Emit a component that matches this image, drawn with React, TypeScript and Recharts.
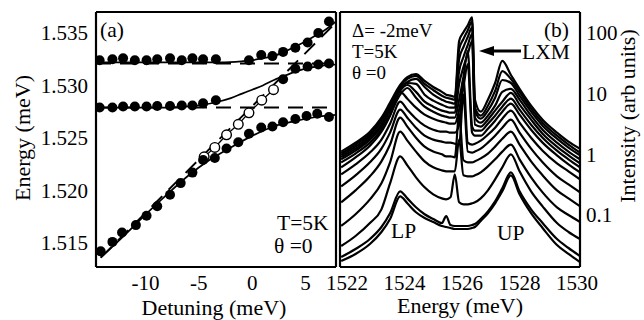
import React from 'react';
import { ComposedChart, LineChart, Line, Scatter, XAxis, YAxis } from 'recharts';

const FONT = "'Liberation Serif', 'Times New Roman', serif";

// ---- panel (a): polariton energies vs detuning ----
const DET_DOMAIN = [-14.64, 7.86];
const EA_DOMAIN = [1.51271, 1.537];
const DET_TICKS = [-10, -5, 0, 5];
const DET_MINOR = [-14, -13, -12, -11, -9, -8, -7, -6, -4, -3, -2, -1, 1, 2, 3, 4, 6, 7];
const DET_TOP = [-14.3, -9.95, -5.6, -1.25, 3.1, 7.45];
const EA_TICKS = [1.515, 1.52, 1.525, 1.53, 1.535];
const EA_MINOR = [1.513, 1.514, 1.516, 1.517, 1.518, 1.519, 1.521, 1.522, 1.523, 1.524, 1.526, 1.527, 1.528, 1.529, 1.531, 1.532, 1.533, 1.534, 1.536];

const UPPER_DET = [-14.3, -13.1, -12.1, -11.0, -9.9, -8.9, -7.7, -6.6, -5.6, -4.6, -3.4, -0.3, 0.85, 1.9, 2.9, 4.05, 5.2, 6.2, 7.2];
const UPPER_E = [1.5324, 1.5325, 1.5326, 1.5324, 1.5324, 1.5325, 1.5326, 1.5324, 1.5326, 1.5325, 1.5325, 1.5324, 1.5329, 1.5328, 1.5332, 1.5336, 1.5341, 1.535, 1.5361];

const MIDDLE_DET = [-14.3, -13.1, -12.1, -11.0, -9.9, -8.9, -7.7, -6.6, -5.6, -4.6, -3.4, 2.9, 4.05, 5.2, 6.2, 7.2];
const MIDDLE_E = [1.5279, 1.5279, 1.528, 1.528, 1.528, 1.52805, 1.52805, 1.5281, 1.5281, 1.5283, 1.5286, 1.5306, 1.5316, 1.5318, 1.532, 1.5321];

const LOWER_DET = [-14.2, -13.1, -12.2, -10.9, -9.9, -8.9, -7.7, -6.7, -5.6, -4.6, -3.5, -2.4, -1.3, -0.3, 0.85, 1.9, 2.9, 4.05, 5.1, 6.1, 7.2];
const LOWER_E = [1.5142, 1.5151, 1.516, 1.5167, 1.5176, 1.5185, 1.5196, 1.5207, 1.5217, 1.5229, 1.5231, 1.524, 1.5246, 1.5254, 1.526, 1.5261, 1.5265, 1.5268, 1.5271, 1.5273, 1.527];

const OPEN_DET = [-4.5, -3.5, -2.4, -1.3, -0.3, 0.9, 2.0];
const OPEN_E = [1.5232, 1.5241, 1.5253, 1.5263, 1.5274, 1.5286, 1.5296];

const FIT_UP_DET = [-14.64, -6, -3, -1, 0, 1, 2, 3, 4, 5, 6, 7, 7.86];
const FIT_UP_E = [1.5322, 1.5322, 1.5322, 1.5323, 1.5324, 1.5326, 1.5328, 1.5332, 1.5337, 1.5342, 1.5348, 1.5354, 1.5361];
const FIT_MID_DET = [-14.64, -8, -5, -3, -2, -1, 0, 1, 2, 3, 4, 5, 6, 7.86];
const FIT_MID_E = [1.5279, 1.5279, 1.5281, 1.5285, 1.5288, 1.5292, 1.5296, 1.53, 1.5305, 1.5309, 1.5313, 1.5316, 1.5318, 1.532];
const FIT_LOW_DET = [-14.2, -12, -10, -8, -6, -4, -2, 0, 2, 4, 6, 7.86];
const FIT_LOW_E = [1.5136, 1.5157, 1.5177, 1.5196, 1.5214, 1.5229, 1.5241, 1.5252, 1.5261, 1.5266, 1.527, 1.5272];

const EXC_DET = [-14.64, 7.86];
const EXC_HIGH_E = [1.5321, 1.5321];
const EXC_LOW_E = [1.5279, 1.5279];
const CAV_DET = [-14.2, 7.86];
const CAV_E = [1.5136, 1.536];

// ---- panel (b): spectra for increasing power ----
const EN_DOMAIN = [1521.76, 1530.1];
const INT_DOMAIN = [0.0139, 222];
const EN_TICKS = [1522, 1524, 1526, 1528, 1530];
const EN_MINOR = [1522.5, 1523, 1523.5, 1524.5, 1525, 1525.5, 1526.5, 1527, 1527.5, 1528.5, 1529, 1529.5];
const INT_TICKS = [0.1, 1, 10, 100];

const ENERGY = [1521.8, 1522.3, 1522.8, 1523.2, 1523.5, 1523.85, 1524.1, 1524.4, 1524.7, 1525.0, 1525.3, 1525.45, 1525.6, 1525.75, 1525.9, 1526.05, 1526.2, 1526.35, 1526.45, 1526.65, 1526.9, 1527.15, 1527.4, 1527.7, 1528.0, 1528.4, 1528.8, 1529.3, 1529.7, 1530.1];

const C1 = [0.0175, 0.0228, 0.0333, 0.0525, 0.0859, 0.203, 0.156, 0.111, 0.0893, 0.0767, 0.0659, 0.0634, 0.0611, 0.0588, 0.0588, 0.0588, 0.0588, 0.0611, 0.0634, 0.0797, 0.107, 0.156, 0.246, 0.451, 0.219, 0.107, 0.0611, 0.032, 0.0228, 0.0168];
const C2 = [0.0203, 0.0275, 0.0402, 0.0634, 0.107, 0.246, 0.188, 0.134, 0.103, 0.0859, 0.0738, 0.0963, 0.0684, 0.0659, 0.0659, 0.0659, 0.0659, 0.0684, 0.0711, 0.0859, 0.115, 0.168, 0.275, 0.505, 0.246, 0.124, 0.0738, 0.0402, 0.0286, 0.0211];
const C3 = [0.0308, 0.0451, 0.0738, 0.124, 0.333, 0.927, 0.659, 0.418, 0.286, 0.219, 0.188, 0.181, 0.196, 0.468, 0.162, 0.15, 0.15, 0.156, 0.162, 0.188, 0.255, 0.387, 0.611, 1.0, 0.525, 0.246, 0.139, 0.0738, 0.0525, 0.0402];
const C4 = [0.0659, 0.103, 0.181, 0.333, 0.738, 2.36, 1.68, 1.11, 0.767, 0.611, 0.545, 0.525, 0.525, 0.525, 1.75, 0.451, 0.434, 0.434, 0.451, 0.505, 0.634, 0.827, 1.11, 1.45, 0.827, 0.418, 0.236, 0.134, 0.1, 0.0767];
const C5 = [0.162, 0.255, 0.434, 0.767, 1.45, 4.02, 2.86, 1.88, 1.34, 1.11, 1.0, 0.927, 0.927, 0.893, 4.51, 0.797, 0.738, 0.738, 0.767, 0.859, 1.03, 1.34, 1.81, 2.36, 1.45, 0.767, 0.451, 0.255, 0.188, 0.139];
const C6 = [0.297, 0.451, 0.738, 1.24, 2.28, 5.45, 4.02, 2.75, 2.03, 1.75, 1.62, 1.56, 1.56, 1.5, 1.45, 9.63, 1.11, 1.07, 1.11, 1.24, 1.56, 2.03, 2.75, 3.73, 2.28, 1.24, 0.738, 0.434, 0.32, 0.236];
const C7 = [0.468, 0.684, 1.07, 1.75, 3.2, 7.38, 5.45, 3.87, 2.97, 2.55, 2.36, 2.36, 2.28, 2.28, 3.08, 17.5, 1.56, 1.45, 1.5, 1.68, 2.11, 2.75, 3.87, 5.25, 3.33, 1.88, 1.15, 0.711, 0.525, 0.387];
const C8 = [0.611, 0.893, 1.39, 2.36, 4.34, 10.7, 8.27, 5.88, 4.51, 3.87, 3.46, 3.33, 3.2, 3.2, 5.45, 12.9, 30.8, 2.28, 2.03, 2.03, 2.65, 3.59, 5.05, 6.84, 4.51, 2.55, 1.56, 0.963, 0.684, 0.505];
const C9 = [0.738, 1.03, 1.56, 2.55, 4.51, 9.63, 12.4, 8.59, 6.11, 5.05, 4.34, 4.18, 4.02, 4.02, 7.97, 18.8, 50.5, 2.86, 2.46, 2.46, 3.2, 4.34, 6.11, 8.27, 5.45, 3.08, 1.88, 1.15, 0.827, 0.611];
const C10 = [0.827, 1.15, 1.75, 2.86, 5.25, 11.1, 13.9, 10.7, 7.38, 6.11, 5.25, 5.05, 4.86, 4.86, 14.5, 27.5, 45.1, 73.8, 3.08, 2.86, 3.73, 5.25, 7.38, 10.3, 6.59, 3.73, 2.19, 1.34, 0.963, 0.711];
const C11 = [0.893, 1.24, 1.88, 3.08, 5.66, 11.5, 15, 14.5, 9.63, 7.67, 6.59, 6.11, 5.88, 5.88, 23.6, 40.2, 63.4, 96.3, 4.02, 3.33, 4.34, 6.34, 10.7, 12, 7.97, 4.34, 2.55, 1.56, 1.11, 0.827];
const C12 = [0.963, 1.34, 2.03, 3.46, 6.11, 12, 15.6, 17.5, 12.9, 9.63, 7.97, 7.38, 7.11, 6.84, 37.3, 58.8, 85.9, 124, 5.05, 3.87, 5.25, 8.59, 16.8, 15, 9.27, 5.05, 2.97, 1.81, 1.29, 0.963];
const C13 = [1.03, 1.45, 2.19, 3.73, 6.59, 12.9, 17.5, 19.6, 14.5, 11.5, 9.27, 8.59, 8.27, 7.97, 54.5, 79.7, 111, 156, 5.88, 4.34, 6.34, 11.1, 23.6, 17.5, 10.7, 5.66, 3.33, 2.03, 1.45, 1.07];
const C14 = [1.11, 1.56, 2.36, 4.02, 7.11, 13.9, 18.8, 21.1, 16.2, 12.9, 10.7, 9.63, 9.27, 8.93, 73.8, 103, 134, 181, 7.97, 5.05, 7.97, 15, 34.6, 20.3, 12, 6.34, 3.73, 2.28, 1.62, 1.24];
const SPECTRA = [C1, C2, C3, C4, C5, C6, C7, C8, C9, C10, C11, C12, C13, C14];

const pts = (xs: number[], ys: number[]) => xs.map((x, i) => ({ x, y: ys[i] }));

const spectraRows = ENERGY.map((e, i) => {
  const row: Record<string, number> = { e };
  SPECTRA.forEach((s, k) => {
    row['c' + k] = s[i];
  });
  return row;
});

const tickFont = { fontSize: 21, fill: '#000', fontFamily: FONT };
const frame = { stroke: '#000', strokeWidth: 2.2 };
const tickStroke = { stroke: '#000', strokeWidth: 1.6 };

const FilledDot = (p: any) => <circle cx={p.cx} cy={p.cy} r={5} fill="#000" />;
const OpenDot = (p: any) => <circle cx={p.cx} cy={p.cy} r={4.8} fill="#fff" stroke="#000" strokeWidth={1.4} />;

function PanelA() {
  const xa = { type: 'number' as const, dataKey: 'x', domain: DET_DOMAIN, allowDataOverflow: true, interval: 0 as const };
  const ya = { type: 'number' as const, domain: EA_DOMAIN, allowDataOverflow: true, interval: 0 as const };
  return (
    <ComposedChart width={338} height={320} margin={{ top: 12, right: 2, bottom: 0, left: 0 }}>
      <XAxis xAxisId="x" {...xa} ticks={DET_TICKS} height={53} tickLine={false} tickSize={0} tickMargin={8} axisLine={frame} tick={tickFont} />
      <XAxis xAxisId="xm" {...xa} ticks={DET_MINOR} mirror tick={false} tickSize={5} axisLine={false} tickLine={tickStroke} />
      <XAxis xAxisId="xM" {...xa} ticks={DET_TICKS} mirror tick={false} tickSize={10} axisLine={false} tickLine={tickStroke} />
      <XAxis xAxisId="xt" {...xa} orientation="top" ticks={DET_TOP} mirror tick={false} tickSize={10} axisLine={frame} tickLine={tickStroke} />
      <YAxis yAxisId="y" {...ya} ticks={EA_TICKS} width={96} tickLine={false} tickSize={0} tickMargin={8} axisLine={frame} tick={tickFont} tickFormatter={(v: number) => v.toFixed(3)} />
      <YAxis yAxisId="ym" {...ya} ticks={EA_MINOR} mirror tick={false} tickSize={5} axisLine={false} tickLine={tickStroke} />
      <YAxis yAxisId="yM" {...ya} ticks={EA_TICKS} mirror tick={false} tickSize={10} axisLine={false} tickLine={tickStroke} />
      <YAxis yAxisId="yr" {...ya} orientation="right" ticks={EA_MINOR} mirror tick={false} tickSize={5} axisLine={frame} tickLine={tickStroke} />
      <YAxis yAxisId="yrM" {...ya} orientation="right" ticks={EA_TICKS} mirror tick={false} tickSize={10} axisLine={false} tickLine={tickStroke} />

      <Line xAxisId="x" yAxisId="y" data={pts(EXC_DET, EXC_HIGH_E)} dataKey="y" stroke="#000" strokeWidth={1.9} strokeDasharray="15 9" dot={false} isAnimationActive={false} />
      <Line xAxisId="x" yAxisId="y" data={pts(EXC_DET, EXC_LOW_E)} dataKey="y" stroke="#000" strokeWidth={1.9} strokeDasharray="15 9" dot={false} isAnimationActive={false} />
      <Line xAxisId="x" yAxisId="y" data={pts(CAV_DET, CAV_E)} dataKey="y" stroke="#000" strokeWidth={1.9} strokeDasharray="15 9" dot={false} isAnimationActive={false} />
      <Line xAxisId="x" yAxisId="y" data={pts(FIT_UP_DET, FIT_UP_E)} dataKey="y" type="monotone" stroke="#000" strokeWidth={1.7} dot={false} isAnimationActive={false} />
      <Line xAxisId="x" yAxisId="y" data={pts(FIT_MID_DET, FIT_MID_E)} dataKey="y" type="monotone" stroke="#000" strokeWidth={1.7} dot={false} isAnimationActive={false} />
      <Line xAxisId="x" yAxisId="y" data={pts(FIT_LOW_DET, FIT_LOW_E)} dataKey="y" type="monotone" stroke="#000" strokeWidth={1.7} dot={false} isAnimationActive={false} />
      <Line xAxisId="x" yAxisId="y" data={pts(OPEN_DET, OPEN_E)} dataKey="y" stroke="#000" strokeWidth={1.3} dot={<OpenDot />} isAnimationActive={false} />

      <Scatter xAxisId="x" yAxisId="y" data={pts(UPPER_DET, UPPER_E)} dataKey="y" shape={FilledDot} isAnimationActive={false} />
      <Scatter xAxisId="x" yAxisId="y" data={pts(MIDDLE_DET, MIDDLE_E)} dataKey="y" shape={FilledDot} isAnimationActive={false} />
      <Scatter xAxisId="x" yAxisId="y" data={pts(LOWER_DET, LOWER_E)} dataKey="y" shape={FilledDot} isAnimationActive={false} />
    </ComposedChart>
  );
}

function PanelB() {
  const xa = { type: 'number' as const, dataKey: 'e', domain: EN_DOMAIN, allowDataOverflow: true, interval: 0 as const };
  const ya = { type: 'number' as const, scale: 'log' as const, domain: INT_DOMAIN, allowDataOverflow: true, interval: 0 as const };
  return (
    <LineChart width={344} height={320} data={spectraRows} margin={{ top: 12, right: 0, bottom: 0, left: 40 }}>
      <XAxis xAxisId="x" {...xa} ticks={EN_TICKS} height={53} tickLine={false} tickSize={0} tickMargin={8} axisLine={frame} tick={tickFont} />
      <XAxis xAxisId="xm" {...xa} ticks={EN_MINOR} mirror tick={false} tickSize={5} axisLine={false} tickLine={tickStroke} />
      <XAxis xAxisId="xM" {...xa} ticks={EN_TICKS} mirror tick={false} tickSize={9} axisLine={false} tickLine={tickStroke} />
      <XAxis xAxisId="xt" {...xa} orientation="top" ticks={EN_MINOR} mirror tick={false} tickSize={5} axisLine={frame} tickLine={tickStroke} />
      <XAxis xAxisId="xtM" {...xa} orientation="top" ticks={EN_TICKS} mirror tick={false} tickSize={8} axisLine={false} tickLine={tickStroke} />
      <YAxis yAxisId="y" {...ya} orientation="right" ticks={INT_TICKS} width={64} tickLine={false} tickSize={0} tickMargin={6} axisLine={frame} tick={tickFont} tickFormatter={(v: number) => String(v)} />
      <YAxis yAxisId="yr" {...ya} orientation="right" ticks={INT_TICKS} mirror tick={false} tickSize={10} axisLine={false} tickLine={tickStroke} />
      <YAxis yAxisId="yl" {...ya} orientation="left" ticks={INT_TICKS} mirror tick={false} tickSize={10} axisLine={frame} tickLine={tickStroke} />
      {SPECTRA.map((_, k) => (
        <Line key={k} xAxisId="x" yAxisId="y" dataKey={'c' + k} type="monotone" stroke="#000" strokeWidth={2.2} dot={false} isAnimationActive={false} />
      ))}
    </LineChart>
  );
}

export default function App() {
  const t = { fontFamily: FONT, fontSize: 22, fill: '#000' };
  const n = { fontFamily: FONT, fontSize: 21.5, fill: '#000' };
  const s = { fontFamily: FONT, fontSize: 19, fill: '#000' };
  return (
    <div style={{ position: 'fixed', left: 0, top: 0, width: 644, height: 320, background: '#fff', overflow: 'hidden' }}>
      <div style={{ position: 'absolute', left: 0, top: 0 }}>
        <PanelA />
      </div>
      <div style={{ position: 'absolute', left: 300, top: 0 }}>
        <PanelB />
      </div>
      <svg width={644} height={320} style={{ position: 'absolute', left: 0, top: 0, pointerEvents: 'none' }}>
        <text {...t} x={30} y={138} textAnchor="middle" transform="rotate(-90 30 138)">Energy (meV)</text>
        <text {...t} x={214} y={315} textAnchor="middle">Detuning (meV)</text>
        <text {...n} x={100} y={37}>(a)</text>
        <text {...n} x={277} y={230}>T=5K</text>
        <text {...n} x={274} y={253}>θ =0</text>

        <text {...t} x={460} y={313} textAnchor="middle">Energy (meV)</text>
        <text {...t} x={635} y={116} textAnchor="middle" transform="rotate(-90 635 116)">Intensity (arb units)</text>
        <text {...n} x={569} y={37} textAnchor="end">(b)</text>
        <text {...s} x={352} y={37}>Δ= -2meV</text>
        <text {...s} x={352} y={58}>T=5K</text>
        <text {...s} x={352} y={79}>θ =0</text>
        <text {...n} x={522} y={59}>LXM</text>
        <text {...n} x={391} y={238}>LP</text>
        <text {...n} x={497} y={240}>UP</text>
        <line x1={492} y1={51} x2={521} y2={51} stroke="#000" strokeWidth={3} />
        <polygon points="479,51 494,46 494,56" fill="#000" />
      </svg>
    </div>
  );
}
